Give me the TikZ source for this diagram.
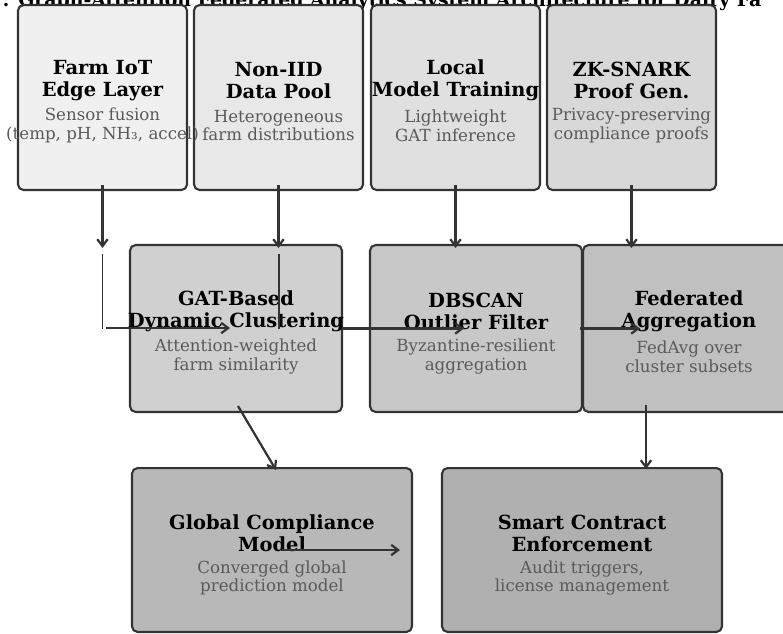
\documentclass[tikz,border=0pt]{standalone}
\usepackage{fontspec}
\setmainfont{DejaVu Serif}
\usepackage{xcolor}
\usetikzlibrary{calc,positioning,arrows.meta}

\definecolor{edgegray}{HTML}{333333}
\definecolor{subgray}{HTML}{5A5A5A}
\definecolor{fillA}{HTML}{F0F0F0}
\definecolor{fillB}{HTML}{E8E8E8}
\definecolor{fillC}{HTML}{E0E0E0}
\definecolor{fillD}{HTML}{D8D8D8}
\definecolor{fillE}{HTML}{D0D0D0}
\definecolor{fillF}{HTML}{C8C8C8}
\definecolor{fillG}{HTML}{C0C0C0}
\definecolor{fillH}{HTML}{B8B8B8}
\definecolor{fillI}{HTML}{B0B0B0}

\begin{document}
\begin{tikzpicture}[x=0.72pt,y=-0.72pt]
      \tikzstyle{blk} = [rectangle, draw=edgegray, line width=1.5pt, rounded corners=4pt, inner sep=0pt]
      \tikzstyle{rowa} = [blk, minimum width=121.7pt, minimum height=133.2pt]
      \tikzstyle{rowb} = [blk, minimum width=152.6pt, minimum height=120.2pt]
      \tikzstyle{rowc} = [blk, minimum width=201.6pt, minimum height=118pt]
      \tikzstyle{ttl} = [align=center, inner sep=0pt, font=\fontsize{14}{15.8}\selectfont\bfseries]
      \tikzstyle{sub} = [align=center, inner sep=0pt, text=subgray, font=\fontsize{12}{13.5}\selectfont]
      \tikzstyle{arr} = [draw=edgegray, line width=1.6pt, -{Straight Barb[length=5pt,width=7.5pt]}]
      \tikzstyle{lnk} = [draw=edgegray, line width=1.2pt]

      \useasboundingbox (0,0) rectangle (783,633);

      \node[anchor=base west, inner sep=0pt, font=\fontsize{13.6}{16}\selectfont\bfseries] (title) at (18,6)
        {\llap{: }Graph-Attention Federated Analytics System Architecture for Dairy Fa};

      % top row
      \node[rowa, fill=fillA] (farm) at (102.5,97.5) {};
      \node[rowa, fill=fillB] (pool) at (278.5,97.5) {};
      \node[rowa, fill=fillC] (local) at (455.5,97.5) {};
      \node[rowa, fill=fillD] (zk) at (631.5,97.5) {};

      % middle row
      \node[rowb, fill=fillE] (gat) at (236,328.5) {};
      \node[rowb, fill=fillF] (dbscan) at (476,328.5) {};
      \node[rowb, fill=fillG] (fedagg) at (689,328.5) {};

      % bottom row
      \node[rowc, fill=fillH] (global) at (272,550) {};
      \node[rowc, fill=fillI] (smart) at (582,550) {};

      % texts
      \node[ttl] (farmT) at ($(farm)+(0,-17)$) {Farm IoT\\Edge Layer};
      \node[sub] (farmS) at ($(farm)+(0,28)$) {Sensor fusion\\(temp, pH, NH₃, accel)};
      \node[ttl] (poolT) at ($(pool)+(0,-17)$) {Non-IID\\Data Pool};
      \node[sub] (poolS) at ($(pool)+(0,28)$) {Heterogeneous\\farm distributions};
      \node[ttl] (localT) at ($(local)+(0,-17)$) {Local\\Model Training};
      \node[sub] (localS) at ($(local)+(0,28)$) {Lightweight\\GAT inference};
      \node[ttl] (zkT) at ($(zk)+(0,-17)$) {ZK-SNARK\\Proof Gen.};
      \node[sub] (zkS) at ($(zk)+(0,28)$) {Privacy-preserving\\compliance proofs};

      \node[ttl] (gatT) at ($(gat)+(0,-17)$) {GAT-Based\\Dynamic Clustering};
      \node[sub] (gatS) at ($(gat)+(0,28)$) {Attention-weighted\\farm similarity};
      \node[ttl] (dbscanT) at ($(dbscan)+(0,-17)$) {DBSCAN\\Outlier Filter};
      \node[sub] (dbscanS) at ($(dbscan)+(0,28)$) {Byzantine-resilient\\aggregation};
      \node[ttl] (fedaggT) at ($(fedagg)+(0,-17)$) {Federated\\Aggregation};
      \node[sub] (fedaggS) at ($(fedagg)+(0,28)$) {FedAvg over\\cluster subsets};

      \node[ttl] (globalT) at ($(global)+(0,-17)$) {Global Compliance\\Model};
      \node[sub] (globalS) at ($(global)+(0,28)$) {Converged global\\prediction model};
      \node[ttl] (smartT) at ($(smart)+(0,-17)$) {Smart Contract\\Enforcement};
      \node[sub] (smartS) at ($(smart)+(0,28)$) {Audit triggers,\\license management};

      % free ends
      \coordinate (farmEnd) at (102.5,248);
      \coordinate (poolEnd) at (278.5,248);
      \coordinate (localEnd) at (455.5,248);
      \coordinate (zkEnd) at (631.5,248);
      \coordinate (tapA) at (102.5,254);
      \coordinate (tapB) at (102.5,329);
      \coordinate (tapC) at (279,254);
      \coordinate (tapD) at (279,329);
      \coordinate (joinA) at (106,328);
      \coordinate (joinB) at (230,328);
      \coordinate (dbscanIn) at (464,328.5);
      \coordinate (fedIn) at (640,328.5);
      \coordinate (gatOut) at (238,406);
      \coordinate (globalIn) at (276,470);
      \coordinate (fedOut) at (646,405);
      \coordinate (smartIn) at (646,469);
      \coordinate (modelA) at (282,550);
      \coordinate (modelB) at (400,550);

      % connections
      \draw[arr] ($(farm.south)+(0,-6)$) to (farmEnd);
      \draw[arr] ($(pool.south)+(0,-6)$) to (poolEnd);
      \draw[arr] ($(local.south)+(0,-6)$) to (localEnd);
      \draw[arr] ($(zk.south)+(0,-6)$) to (zkEnd);

      \draw[lnk] (tapA) to (tapB);
      \draw[lnk] (tapC) to (tapD);
      \draw[arr] (joinA) to (joinB);
      \draw[arr] (gat.east) to (dbscanIn);
      \draw[arr] ($(dbscan.east)+(-3,0)$) to (fedIn);

      \draw[arr] (gatOut) to (globalIn);
      \draw[arr] (fedOut) to (smartIn);
      \draw[arr] (modelA) to (modelB);
\end{tikzpicture}
\end{document}
